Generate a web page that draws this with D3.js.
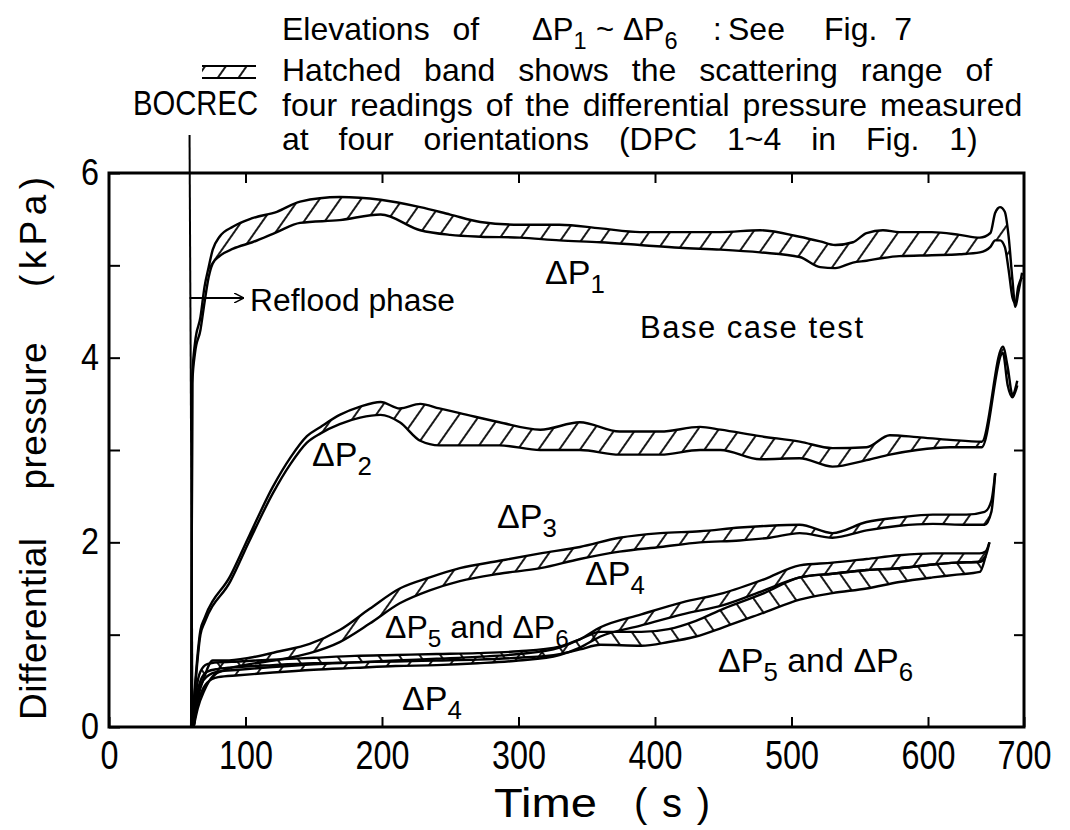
<!DOCTYPE html>
<html lang="en">
<head>
<meta charset="UTF-8">
<title>Differential pressure</title>
<script src="https://d3js.org/d3.v7.min.js"></script>
<style>
  body { margin: 0; background: #fff; }
  text { font-family: "Liberation Sans", Arial, sans-serif; fill: #000; }
</style>
</head>
<body>
<script>

// axis ticks
var xTicks = [0, 100, 200, 300, 400, 500, 600, 700];
var yTicks = [0, 1, 2, 3, 4, 5, 6];
var bocrec = 59;

// dP1 band (time, upper, lower)
var tP1  = [60.2, 61, 63, 67, 70, 73, 76, 81, 91, 105, 123, 140, 169, 199, 228, 250, 272, 301, 330, 360, 389, 418, 448, 477, 506, 521, 532, 545, 555, 567, 579, 604, 633, 654, 665, 670, 675, 680, 684, 688, 691, 694, 698];
var hiP1 = [0, 3.79, 4.16, 4.44, 4.77, 4.98, 5.17, 5.31, 5.42, 5.51, 5.58, 5.69, 5.74, 5.71, 5.63, 5.55, 5.47, 5.44, 5.44, 5.40, 5.36, 5.36, 5.36, 5.38, 5.31, 5.26, 5.22, 5.25, 5.35, 5.38, 5.36, 5.36, 5.33, 5.30, 5.35, 5.57, 5.63, 5.58, 5.31, 4.84, 4.55, 4.70, 4.92];
var loP1 = [0, 3.72, 4.05, 4.30, 4.60, 4.87, 5.02, 5.10, 5.18, 5.25, 5.36, 5.46, 5.49, 5.55, 5.38, 5.33, 5.31, 5.30, 5.27, 5.25, 5.22, 5.19, 5.17, 5.14, 5.09, 4.98, 4.97, 5.03, 5.05, 5.08, 5.10, 5.11, 5.12, 5.14, 5.20, 5.27, 5.27, 5.20, 4.95, 4.65, 4.59, 4.77, 4.87];

// dP2 band
var tP2  = [61, 67, 70, 89, 103, 120, 133, 145, 155, 169, 184, 199, 213, 228, 242, 257, 286, 316, 345, 374, 404, 433, 448, 477, 506, 530, 555, 572, 592, 623, 656, 678, 683, 688, 693];
var hiP2 = [0.05, 1.05, 1.18, 1.64, 2.08, 2.60, 2.92, 3.15, 3.25, 3.38, 3.47, 3.52, 3.45, 3.50, 3.45, 3.40, 3.30, 3.22, 3.30, 3.20, 3.20, 3.25, 3.22, 3.15, 3.09, 3.02, 3.03, 3.16, 3.14, 3.11, 3.09, 4.12, 3.90, 3.60, 3.75];
var loP2 = [0, 1.00, 1.13, 1.58, 2.02, 2.53, 2.85, 3.08, 3.18, 3.28, 3.35, 3.38, 3.30, 3.10, 3.05, 3.05, 3.05, 3.00, 3.00, 2.95, 2.95, 3.00, 3.00, 2.90, 2.91, 2.82, 2.89, 2.95, 3.00, 3.03, 3.03, 4.05, 3.70, 3.57, 3.70];

// dP3 band
var tP3  = [62, 65, 70, 76, 85, 103, 125, 147, 169, 191, 213, 235, 257, 286, 316, 345, 374, 404, 433, 462, 484, 506, 530, 555, 579, 605, 640, 659, 666, 670];
var hiP3 = [0, 0.30, 0.55, 0.72, 0.72, 0.75, 0.82, 0.90, 1.05, 1.28, 1.50, 1.62, 1.72, 1.80, 1.88, 1.95, 2.05, 2.10, 2.12, 2.16, 2.18, 2.19, 2.10, 2.22, 2.27, 2.30, 2.30, 2.33, 2.45, 2.75];
var loP3 = [0, 0.20, 0.40, 0.55, 0.62, 0.68, 0.73, 0.80, 0.92, 1.12, 1.34, 1.48, 1.58, 1.66, 1.72, 1.82, 1.90, 1.95, 2.00, 2.02, 2.05, 2.10, 2.05, 2.13, 2.18, 2.20, 2.19, 2.19, 2.33, 2.75];

// dP4 band
var tP4  = [62, 64, 67, 72, 80, 95, 120, 150, 180, 210, 240, 270, 300, 330, 345, 360, 390, 420, 450, 480, 506, 530, 555, 579, 605, 630, 654, 660, 664];
var hiP4 = [0, 0.30, 0.45, 0.55, 0.60, 0.62, 0.65, 0.68, 0.70, 0.72, 0.74, 0.76, 0.79, 0.86, 0.95, 1.08, 1.22, 1.35, 1.45, 1.60, 1.75, 1.78, 1.82, 1.86, 1.88, 1.88, 1.88, 1.90, 2.00];
var loP4 = [0, 0.20, 0.35, 0.48, 0.54, 0.56, 0.59, 0.62, 0.64, 0.66, 0.67, 0.69, 0.72, 0.78, 0.86, 0.98, 1.10, 1.22, 1.32, 1.48, 1.62, 1.66, 1.70, 1.72, 1.76, 1.78, 1.79, 1.85, 2.00];

// dP5 and dP6 band
var tP56  = [62, 64, 67, 72, 80, 95, 120, 150, 180, 210, 240, 270, 300, 330, 345, 360, 390, 410, 430, 450, 480, 506, 530, 555, 579, 605, 630, 654, 660];
var hiP56 = [0, 0.40, 0.60, 0.68, 0.70, 0.71, 0.73, 0.75, 0.77, 0.78, 0.79, 0.80, 0.82, 0.87, 0.95, 1.03, 1.03, 1.06, 1.15, 1.28, 1.45, 1.62, 1.66, 1.70, 1.72, 1.76, 1.78, 1.79, 1.85];
var loP56 = [0, 0.30, 0.50, 0.60, 0.63, 0.65, 0.67, 0.69, 0.70, 0.71, 0.72, 0.73, 0.75, 0.79, 0.84, 0.89, 0.88, 0.92, 0.98, 1.08, 1.24, 1.38, 1.45, 1.50, 1.57, 1.62, 1.65, 1.68, 1.85];

var bands = [
    { t: tP1, hi: hiP1, lo: loP1, hatch: "fwd" },
    { t: tP2, hi: hiP2, lo: loP2, hatch: "fwd" },
    { t: tP3, hi: hiP3, lo: loP3, hatch: "fwd" },
    { t: tP56, hi: hiP56, lo: loP56, hatch: "back" },
    { t: tP4, hi: hiP4, lo: loP4, hatch: "fwd" }
];

var plotL = 109, plotR = 1024, plotT = 173, plotB = 727;

var svg = d3.select("body").append("svg")
    .attr("width", 1070)
    .attr("height", 830);

svg.append("rect").attr("width", 1070).attr("height", 830).attr("fill", "#fff");

// the printed axis is slightly uneven past 600 s
var x = d3.scaleLinear().domain([0, 600, 700]).range([plotL, 928, plotR]);
var y = d3.scaleLinear().domain([0, 6]).range([plotB, plotT]);

var defs = svg.append("defs");
function hatch(id, angle) {
    var p = defs.append("pattern")
        .attr("id", id)
        .attr("patternUnits", "userSpaceOnUse")
        .attr("width", 17).attr("height", 17)
        .attr("patternTransform", "rotate(" + angle + ")");
    p.append("line")
        .attr("x1", 2).attr("y1", 0).attr("x2", 2).attr("y2", 17)
        .attr("stroke", "#000").attr("stroke-width", 1.8);
}
hatch("fwd", 35);
hatch("back", -35);

// frame
svg.append("rect")
    .attr("x", plotL).attr("y", plotT)
    .attr("width", plotR - plotL).attr("height", plotB - plotT)
    .attr("fill", "none").attr("stroke", "#000").attr("stroke-width", 3);

function tickLabelWidth(d) { return String(d).length * 18; }

var xAxis = svg.append("g")
    .attr("transform", "translate(0," + plotB + ")")
    .call(d3.axisBottom(x).tickValues(xTicks).tickSize(-10).tickPadding(14).tickFormat(d3.format("d")));
xAxis.select(".domain").remove();
xAxis.selectAll("line").attr("stroke-width", 2);
xAxis.selectAll("text")
    .attr("font-size", 40)
    .attr("textLength", tickLabelWidth)
    .attr("lengthAdjust", "spacingAndGlyphs");

var topAxis = svg.append("g")
    .attr("transform", "translate(0," + plotT + ")")
    .call(d3.axisTop(x).tickValues(xTicks.slice(1, 7)).tickSize(-10).tickFormat(""));
topAxis.select(".domain").remove();
topAxis.selectAll("line").attr("stroke-width", 2);

var yAxis = svg.append("g")
    .attr("transform", "translate(" + plotL + ",0)")
    .call(d3.axisLeft(y).tickValues(yTicks).tickSize(-11).tickPadding(10)
        .tickFormat(function (d) { return d % 2 === 0 ? d : ""; }));
yAxis.select(".domain").remove();
yAxis.selectAll("line").attr("stroke-width", 2);
yAxis.selectAll("text")
    .attr("font-size", 36)
    .attr("textLength", function (d) { return d % 2 === 0 ? 18 : null; })
    .attr("lengthAdjust", "spacingAndGlyphs");

var rightAxis = svg.append("g")
    .attr("transform", "translate(" + plotR + ",0)")
    .call(d3.axisRight(y).tickValues(yTicks.slice(1, 6)).tickSize(-10).tickFormat(""));
rightAxis.select(".domain").remove();
rightAxis.selectAll("line").attr("stroke-width", 2);

// hatched bands
var area = d3.area()
    .x(function (d) { return x(d.t); })
    .y0(function (d) { return y(d.lo); })
    .y1(function (d) { return y(d.hi); })
    .curve(d3.curveMonotoneX);
var lineHi = d3.line()
    .x(function (d) { return x(d.t); })
    .y(function (d) { return y(d.hi); })
    .curve(d3.curveMonotoneX);
var lineLo = d3.line()
    .x(function (d) { return x(d.t); })
    .y(function (d) { return y(d.lo); })
    .curve(d3.curveMonotoneX);

bands.forEach(function (b) {
    var pts = b.t.map(function (t, i) { return { t: t, hi: b.hi[i], lo: b.lo[i] }; });
    var g = svg.append("g");
    g.append("path").datum(pts).attr("d", area).attr("fill", "url(#" + b.hatch + ")");
    g.append("path").datum(pts).attr("d", lineHi)
        .attr("fill", "none").attr("stroke", "#000").attr("stroke-width", 2.4);
    g.append("path").datum(pts).attr("d", lineLo)
        .attr("fill", "none").attr("stroke", "#000").attr("stroke-width", 2.4);
});

// BOCREC line and reflood arrow
svg.append("line")
    .attr("x1", x(bocrec)).attr("y1", 135)
    .attr("x2", x(bocrec) + 3).attr("y2", plotB)
    .attr("stroke", "#000").attr("stroke-width", 2);
defs.append("marker")
    .attr("id", "arrow").attr("viewBox", "0 0 10 10")
    .attr("refX", 10).attr("refY", 5)
    .attr("markerWidth", 10).attr("markerHeight", 10)
    .attr("markerUnits", "userSpaceOnUse")
    .attr("orient", "auto")
    .append("path").attr("d", "M0,0 L10,5 L0,10").attr("fill", "none").attr("stroke", "#000").attr("stroke-width", 1.5);
svg.append("line")
    .attr("x1", x(bocrec)).attr("y1", 298)
    .attr("x2", 244).attr("y2", 298)
    .attr("stroke", "#000").attr("stroke-width", 1.8)
    .attr("marker-end", "url(#arrow)");

function label(txt, px, py, size, len, adj) {
    var t = svg.append("text")
        .attr("x", px).attr("y", py)
        .attr("font-size", size)
        .text(txt);
    if (len) t.attr("textLength", len).attr("lengthAdjust", adj || "spacingAndGlyphs");
    return t;
}

// delta-P label with subscript
function dp(px, py, sub, tail, size) {
    size = size || 34;
    var t = svg.append("text").attr("x", px).attr("y", py).attr("font-size", size);
    t.append("tspan").text("\u0394P");
    t.append("tspan").attr("dy", 9).attr("font-size", size * 0.76).text(sub);
    if (tail) {
        t.append("tspan").attr("dy", -9).text(tail[0]);
        t.append("tspan").text("\u0394P");
        t.append("tspan").attr("dy", 9).attr("font-size", size * 0.76).text(tail[1]);
    }
    return t;
}

// header notes
label("Elevations of", 282, 40, 32).attr("word-spacing", 14);
dp(532, 40, "1", null, 31);
label("~", 596, 40, 31);
dp(623, 40, "6", null, 31);
label(":", 713, 40, 31);
label("See", 728, 40, 32);
label("Fig. 7", 824, 40, 32).attr("word-spacing", 8);

var leg = svg.append("g");
leg.append("rect").attr("x", 202).attr("y", 66).attr("width", 54).attr("height", 12)
    .attr("fill", "url(#fwd)");
leg.append("line").attr("x1", 202).attr("y1", 66).attr("x2", 256).attr("y2", 66)
    .attr("stroke", "#000").attr("stroke-width", 2);
leg.append("line").attr("x1", 202).attr("y1", 78).attr("x2", 256).attr("y2", 78)
    .attr("stroke", "#000").attr("stroke-width", 2);

label("Hatched band shows the scattering range of", 282, 81, 32).attr("word-spacing", 14);
label("BOCREC", 133, 115, 35, 125);
label("four readings of the differential pressure measured", 282, 116, 32).attr("word-spacing", 4);
label("at four orientations (DPC 1~4 in Fig. 1)", 282, 150, 32).attr("word-spacing", 21);

// annotations in the plot
label("Reflood phase", 250, 311, 31, 205);
label("Base case test", 640, 338, 31, 223, "spacing");
dp(545, 284, "1");
dp(312, 466, "2");
dp(497, 528, "3");
dp(585, 585, "4");
dp(385, 638, "5", [" and ", "6"], 32);
dp(402, 710, "4");
dp(718, 672, "5", [" and ", "6"]);

// axis titles
label("Time", 494, 817, 40, 103);
label("(s)", 634, 817, 40, 76, "spacing");

var yl = [["Differential", 629, 182], ["pressure", 416, 147], ["(kPa)", 232, 110]];
yl.forEach(function (d) {
    svg.append("text")
        .attr("transform", "translate(46," + d[1] + ") rotate(-90)")
        .attr("text-anchor", "middle")
        .attr("font-size", 37)
        .attr("textLength", d[2])
        .attr("lengthAdjust", "spacing")
        .text(d[0]);
});

</script>
</body>
</html>
